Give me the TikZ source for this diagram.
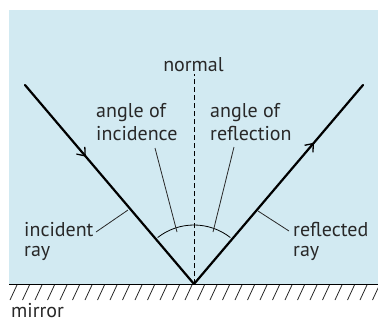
\documentclass[tikz,border=0pt]{standalone}
\usepackage{fontspec}
\setmainfont{PT Sans}
\usetikzlibrary{arrows.meta,decorations.markings}
\definecolor{bgblue}{RGB}{210,234,242}
\definecolor{txt}{RGB}{40,40,40}
\tikzset{
  lbl/.style={font=\fontsize{20}{22}\selectfont, text=txt, inner sep=0pt, anchor=base west},
  ray/.style={line width=2.2pt, line cap=round},
  leader/.style={line width=0.8pt, draw=txt},
  hatchline/.style={line width=0.8pt, draw=txt},
  arrowat/.style={postaction={decorate}, decoration={markings, mark=at position #1 with {\arrow{Straight Barb[length=7pt,width=11pt,line width=1.3pt]}}}},
}
\begin{document}
\begin{tikzpicture}[x=1pt,y=-1pt]
\useasboundingbox (0,0) rectangle (378,322);
\fill[bgblue] (9,10) rectangle (378,284);
% mirror
\draw[line width=1pt] (9,284) -- (378,284);
\foreach \i in {0,...,29} {
  \draw[hatchline] ({10+\i*12.5},300) -- ({17+\i*12.5},285);
}
\node[lbl] (mirror) at (11,317) {mirror};
% geometry
\coordinate (V) at (194,284);
\coordinate (A) at (25,85);
\coordinate (B) at (363,85);
\coordinate (N) at (194,74);
\draw[dashed, line width=0.8pt, dash pattern=on 5pt off 3pt] (V) -- (N);
\node[lbl, anchor=base] (normal) at (193.5,71.5) {normal};
\draw[ray, arrowat=0.36] (A) -- (V);
\draw[ray, arrowat=0.71] (V) -- (B);
% arc
\draw[line width=0.8pt] (V) ++(-128:59) arc (-128:-52:59);
% labels
\node[lbl] (inc1) at (96,117) {angle of};
\node[lbl] (inc2) at (96,140) {incidence};
\node[lbl] (refl1) at (210,117) {angle of};
\node[lbl] (refl2) at (210,140) {reflection};
\node[lbl] (ir1) at (24,236.7) {incident};
\node[lbl] (ir2) at (24,256.7) {ray};
\node[lbl] (rr1) at (293,236.7) {reflected};
\node[lbl] (rr2) at (293,256.7) {ray};
\coordinate (incA) at (155,148);
\coordinate (incB) at (177,232);
\coordinate (refA) at (234,147);
\coordinate (refB) at (213,232);
\coordinate (irA) at (96,232);
\coordinate (irB) at (128,210);
\coordinate (rrA) at (289,231);
\coordinate (rrB) at (258,211);
\draw[leader] (incA) -- (incB);
\draw[leader] (refA) -- (refB);
\draw[leader] (irA) -- (irB);
\draw[leader] (rrA) -- (rrB);
\end{tikzpicture}
\end{document}
